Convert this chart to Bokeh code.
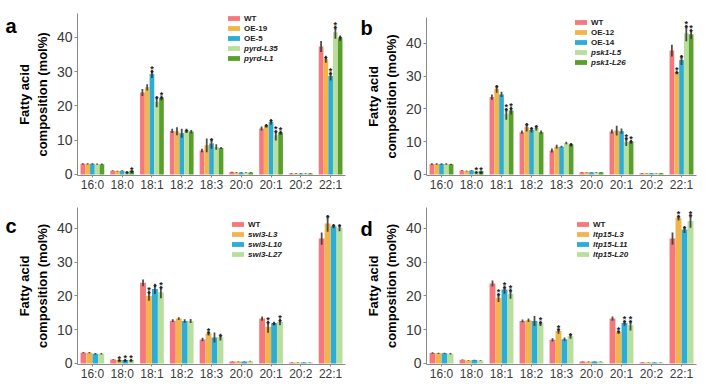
from bokeh.plotting import figure
from bokeh.layouts import column, row
from bokeh.models import (ColumnDataSource, FactorRange, Range1d, FixedTicker,
                          Legend, LegendItem, Label)
from bokeh.transform import dodge
from bokeh.core.properties import value
from bokeh.embed import file_html
from bokeh.resources import INLINE

FONT = "Liberation Sans"

fatty_acids = ["16:0", "18:0", "18:1", "18:2", "18:3", "20:0", "20:1", "20:2", "22:1"]
y_ticks = [0, 10, 20, 30, 40]
y_title = "Fatty acid\ncomposition (mol%)"

# ---------------- panel a ----------------
a_lines = ["WT", "OE-19", "OE-5", "pyrd-L35", "pyrd-L1"]
a_italic = [False, False, False, True, True]
a_mean = [
    [3.1, 1.1, 23.9, 12.7, 7.0, 0.7, 13.4, 0.3, 37.3],
    [3.1, 1.0, 25.4, 12.6, 8.5, 0.6, 14.2, 0.3, 33.6],
    [3.1, 1.1, 29.3, 12.0, 9.0, 0.6, 15.3, 0.3, 28.7],
    [3.0, 0.9, 21.2, 12.7, 8.0, 0.6, 11.4, 0.3, 41.5],
    [3.0, 1.1, 22.3, 12.5, 7.7, 0.6, 12.2, 0.3, 39.7],
]
a_err = [
    [0.2, 0.1, 1.0, 0.6, 0.5, 0.1, 0.6, 0.1, 1.6],
    [0.2, 0.1, 0.9, 1.2, 2.0, 0.1, 0.5, 0.1, 1.0],
    [0.2, 0.1, 1.2, 1.3, 1.5, 0.1, 0.8, 0.1, 1.3],
    [0.2, 0.1, 1.6, 0.6, 0.8, 0.1, 1.5, 0.1, 1.9],
    [0.2, 0.1, 0.7, 0.5, 0.3, 0.1, 0.6, 0.1, 0.8],
]
a_sig = [
    [0, 0, 0, 0, 0, 0, 0, 0, 0],
    [0, 0, 0, 0, 0, 0, 1, 0, 1],
    [0, 0, 2, 0, 1, 0, 1, 0, 2],
    [0, 1, 1, 1, 0, 0, 2, 0, 2],
    [0, 2, 2, 0, 0, 0, 2, 0, 1],
]

# ---------------- panel b ----------------
b_lines = ["WT", "OE-12", "OE-14", "psk1-L5", "psk1-L26"]
b_italic = [False, False, False, True, True]
b_mean = [
    [3.2, 1.2, 23.6, 12.9, 7.3, 0.7, 13.1, 0.4, 37.8],
    [3.2, 1.1, 26.1, 14.4, 8.5, 0.7, 13.4, 0.4, 31.2],
    [3.2, 1.2, 24.4, 13.6, 8.5, 0.7, 13.2, 0.4, 34.9],
    [3.2, 1.0, 18.5, 14.2, 9.6, 0.6, 10.0, 0.4, 43.1],
    [3.1, 1.1, 19.5, 12.9, 9.1, 0.7, 10.0, 0.4, 42.8],
]
b_err = [
    [0.2, 0.1, 0.8, 0.5, 0.6, 0.1, 0.6, 0.1, 1.8],
    [0.2, 0.1, 1.2, 1.3, 0.6, 0.1, 1.5, 0.1, 0.5],
    [0.2, 0.1, 0.8, 0.8, 0.3, 0.1, 0.8, 0.1, 1.5],
    [0.2, 0.1, 1.8, 0.8, 0.4, 0.1, 1.3, 0.1, 2.5],
    [0.2, 0.1, 1.2, 0.5, 0.5, 0.1, 0.6, 0.1, 1.5],
]
b_sig = [
    [0, 0, 0, 0, 0, 0, 0, 0, 0],
    [0, 0, 1, 1, 0, 0, 0, 0, 2],
    [0, 0, 0, 1, 0, 0, 0, 0, 1],
    [0, 2, 2, 1, 0, 0, 2, 0, 2],
    [0, 2, 2, 0, 1, 0, 2, 0, 2],
]

# ---------------- panel c ----------------
c_lines = ["WT", "swi3-L3", "swi3-L10", "swi3-L27"]
c_italic = [False, True, True, True]
c_mean = [
    [3.2, 1.2, 23.9, 12.7, 7.1, 0.6, 13.3, 0.3, 37.0],
    [3.2, 1.0, 20.1, 13.3, 8.9, 0.6, 10.9, 0.3, 41.5],
    [2.9, 1.0, 22.1, 12.6, 7.7, 0.6, 11.9, 0.3, 40.7],
    [2.9, 1.1, 21.1, 12.6, 7.8, 0.7, 12.3, 0.3, 40.2],
]
c_err = [
    [0.2, 0.1, 1.0, 0.4, 0.5, 0.1, 0.6, 0.1, 1.8],
    [0.2, 0.2, 1.5, 0.4, 0.6, 0.1, 1.8, 0.1, 2.5],
    [0.2, 0.3, 1.5, 0.5, 1.5, 0.1, 0.5, 0.1, 0.6],
    [0.2, 0.2, 1.8, 0.6, 1.0, 0.1, 1.0, 0.1, 1.0],
]
c_sig = [
    [0, 0, 0, 0, 0, 0, 0, 0, 0],
    [0, 2, 2, 0, 2, 0, 2, 0, 1],
    [0, 2, 1, 0, 0, 0, 1, 0, 1],
    [0, 2, 2, 0, 1, 0, 2, 0, 1],
]

# ---------------- panel d ----------------
d_lines = ["WT", "ltp15-L3", "ltp15-L11", "ltp15-L20"]
d_italic = [False, True, True, True]
d_mean = [
    [3.1, 1.1, 23.7, 12.6, 7.0, 0.6, 13.3, 0.3, 37.0],
    [3.0, 0.9, 19.5, 12.8, 9.6, 0.5, 9.3, 0.3, 43.2],
    [3.0, 1.0, 21.9, 12.6, 7.2, 0.6, 12.0, 0.3, 39.7],
    [2.9, 0.9, 20.7, 11.9, 8.1, 0.6, 11.3, 0.3, 42.2],
]
d_err = [
    [0.2, 0.1, 0.9, 0.4, 0.5, 0.1, 0.6, 0.1, 1.8],
    [0.2, 0.1, 1.3, 0.5, 0.8, 0.1, 0.5, 0.1, 0.8],
    [0.2, 0.1, 1.2, 1.5, 0.5, 0.1, 0.8, 0.1, 1.0],
    [0.2, 0.1, 1.5, 0.8, 0.8, 0.1, 1.5, 0.1, 2.0],
]
d_sig = [
    [0, 0, 0, 0, 0, 0, 0, 0, 0],
    [0, 0, 2, 0, 2, 0, 2, 0, 2],
    [0, 0, 2, 0, 0, 0, 2, 0, 1],
    [0, 0, 2, 2, 1, 0, 2, 0, 2],
]

colors5 = ["#F7787C", "#F3B54A", "#2BADD6", "#B8DF9B", "#58A02A"]
colors4 = ["#F7787C", "#F3B54A", "#2BADD6", "#B8DF9B"]

BOTTOM = 20


def letter_fig(letter, width, height, x, baseline):
    f = figure(width=width, height=height, output_backend="svg", toolbar_location=None,
               x_axis_location=None, y_axis_location=None,
               x_range=Range1d(0, 1), y_range=Range1d(0, 1),
               min_border_left=0, min_border_right=0,
               min_border_top=0, min_border_bottom=0, frame_align=False)
    f.outline_line_color = None
    f.grid.grid_line_color = None
    f.margin = (0, -width, 0, 0)   # let the panel next to it start at the same place
    f.add_layout(Label(x=x, y=height - baseline, x_units="screen", y_units="screen",
                       text=letter, text_font=FONT, text_font_size="20px",
                       text_font_style="bold", text_color="black",
                       text_baseline="alphabetic"))
    return f


def make_panel(lines, italic, means, errs, sigs, colors, px_per_unit,
               width, height, left, right, top, leg_x, leg_top):
    fh = height - top - BOTTOM
    ymax = -0.3 + fh / px_per_unit
    p = figure(width=width, height=height, output_backend="svg", toolbar_location=None,
               x_range=FactorRange(*fatty_acids, range_padding=0),
               y_range=Range1d(-0.3, ymax),
               min_border_left=left, min_border_right=right,
               min_border_top=top, min_border_bottom=BOTTOM, frame_align=False)
    p.outline_line_color = None
    p.border_fill_alpha = 0
    p.xgrid.grid_line_color = None
    p.ygrid.grid_line_color = None
    p.background_fill_color = "white"

    n = len(lines)
    w = 0.8 / n
    normal_items, italic_items = [], []
    for i, name in enumerate(lines):
        off = -0.4 + w * (i + 0.5)
        lo = [m - e for m, e in zip(means[i], errs[i])]
        hi = [m + e for m, e in zip(means[i], errs[i])]
        src = ColumnDataSource(dict(fa=fatty_acids, mean=means[i], lo=lo, hi=hi))
        r = p.vbar(x=dodge("fa", off, range=p.x_range), top="mean", bottom=0,
                   width=w * 0.98, source=src, fill_color=colors[i], line_color=None)
        p.segment(x0=dodge("fa", off, range=p.x_range), y0="lo",
                  x1=dodge("fa", off, range=p.x_range), y1="hi",
                  source=src, line_color="#3c3c3c", line_width=1.8, line_alpha=0.9)
        for k in range(2):
            fa_k = [fa for fa, s in zip(fatty_acids, sigs[i]) if s > k]
            y_k = [h for h, s in zip(hi, sigs[i]) if s > k]
            if fa_k:
                ssrc = ColumnDataSource(dict(fa=fa_k, y=y_k))
                p.text(x=dodge("fa", off, range=p.x_range), y="y", text=value("*"),
                       source=ssrc, text_font=value(FONT), text_font_size="9px",
                       text_font_style="bold", text_color="#222222",
                       text_align="center", text_baseline="alphabetic",
                       y_offset=3 - 3.8 * k)
        item = LegendItem(label=name, renderers=[r])
        (italic_items if italic[i] else normal_items).append(item)

    for ax in (p.xaxis[0], p.yaxis[0]):
        ax.axis_line_color = "#8a8a8a"
        ax.major_tick_line_color = "#8a8a8a"
        ax.minor_tick_line_color = None
        ax.major_tick_in = 0
        ax.major_label_text_font = FONT
        ax.major_label_text_color = "#3a3a3a"
    p.xaxis.major_tick_out = 2
    p.xaxis.major_label_text_font_size = "12px"
    p.xaxis.major_label_standoff = 0
    p.xaxis.axis_label_standoff = 0
    p.yaxis.major_tick_out = 3
    p.yaxis.major_label_text_font_size = "14px"
    p.yaxis.major_label_standoff = 2
    p.yaxis.ticker = FixedTicker(ticks=y_ticks)
    p.yaxis.axis_label = y_title
    p.yaxis.axis_label_text_font = FONT
    p.yaxis.axis_label_text_font_size = "13px"
    p.yaxis.axis_label_text_font_style = "bold"
    p.yaxis.axis_label_text_color = "black"
    p.yaxis.axis_label_standoff = 4

    frame_bottom = height - BOTTOM
    for items, style, start in ((normal_items, "bold", 0),
                                (italic_items, "bold italic", len(normal_items))):
        if not items:
            continue
        hgt = 10 * len(items)
        y0 = frame_bottom - (leg_top + 10 * start + hgt)
        leg = Legend(items=items, location=(leg_x, y0),
                     orientation="vertical", padding=0, margin=0, spacing=0,
                     glyph_width=15, glyph_height=6, label_height=10,
                     label_standoff=3, label_text_font=FONT,
                     label_text_font_size="8px", label_text_font_style=style,
                     label_text_color="#222222",
                     border_line_color=None, background_fill_alpha=0)
        p.add_layout(leg)
    return p


H1, H2 = 195, 189
la = letter_fig("a", 24, H1, 5, 25)
pa = make_panel(a_lines, a_italic, a_mean, a_err, a_sig, colors5, 3.43,
                358, H1, 77, 13, 13, 149, 13)
lb = letter_fig("b", 18, H1, 2, 27)
pb = make_panel(b_lines, b_italic, b_mean, b_err, b_sig, colors5, 3.28,
                360, H1, 68, 22, 17, 147, 17)
lc = letter_fig("c", 24, H2, 5, 30)
pc = make_panel(c_lines, c_italic, c_mean, c_err, c_sig, colors4, 3.375,
                358, H2, 77, 13, 12, 153, 24)
ld = letter_fig("d", 18, H2, 2, 33)
pd = make_panel(d_lines, d_italic, d_mean, d_err, d_sig, colors4, 3.375,
                360, H2, 68, 22, 12, 149, 24)

layout = column(row(la, pa, lb, pb), row(lc, pc, ld, pd))
open("out.html", "w").write(file_html(layout, INLINE))
